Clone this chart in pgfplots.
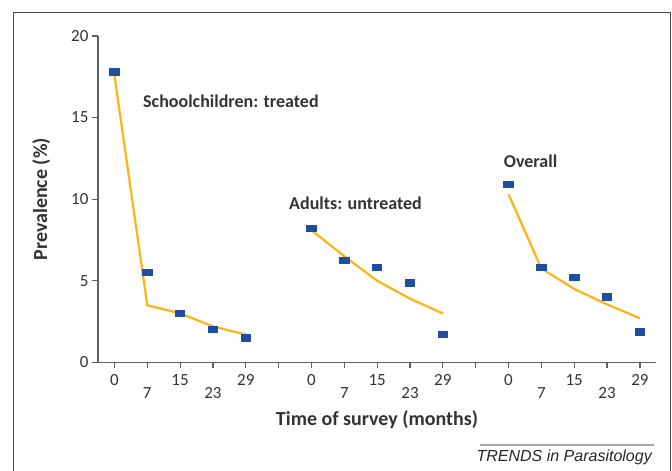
\documentclass[border=0pt]{standalone}
\usepackage{pgfplots}
\pgfplotsset{compat=1.18}
\usepackage{fontspec}
\setmainfont{Carlito}
\newfontfamily\arialfont{Liberation Sans}
\definecolor{markblue}{HTML}{1F4E9F}
\definecolor{linegold}{HTML}{FFB414}
\definecolor{axisgray}{HTML}{606060}
\definecolor{labelgray}{HTML}{333333}
\definecolor{framegray}{HTML}{454545}

\begin{document}
\begin{tikzpicture}
\path[use as bounding box] (0bp,0bp) rectangle (672bp,-471bp);
\draw[framegray, line width=1bp] (13.7bp,-471bp) -- (13.7bp,-12.3bp) -- (670.6bp,-12.3bp) -- (670.6bp,-471bp);
\begin{axis}[
  at={(98bp,-362.3bp)}, anchor=south west,
  scale only axis, width=558bp, height=326.3bp,
  xmin=-0.5, xmax=16.49, ymin=0, ymax=20,
  clip=false,
  axis lines=left,
  x axis line style={-}, y axis line style={-},
  axis line style={axisgray, line width=1.4bp},
  tick align=outside, major tick length=6bp,
  tick style={axisgray, line width=1.2bp},
  xtick={0,...,16},
  xticklabels={0,,15,,29,,0,,15,,29,,0,,15,,29},
  extra x ticks={1,3,7,9,13,15},
  extra x tick labels={7,23,7,23,7,23},
  extra x tick style={tick label style={yshift=-12.3bp}},
  ytick={0,5,10,15,20},
  tick label style={font=\fontsize{17bp}{20bp}\selectfont, text=labelgray},
  xticklabel style={yshift=-3bp},
  /pgf/number format/assume math mode=true,
  xlabel={Time of survey (months)},
  ylabel={Prevalence (\%)},
  xlabel style={at={(axis description cs:0.5,-0.1759)}, anchor=center,
    font=\bfseries\fontsize{20bp}{24bp}\selectfont, text=labelgray},
  ylabel style={at={(axis description cs:-0.1016,0.5)}, anchor=center,
    font=\bfseries\fontsize{20bp}{24bp}\selectfont, text=labelgray},
]
% fitted lines
\addplot[linegold, line width=2.2bp, no marks] coordinates {(0,17.6)(1,3.5)(2,3.0)(3,2.2)(4,1.7)};
\addplot[linegold, line width=2.2bp, no marks] coordinates {(6,8.1)(7,6.5)(8,5.0)(9,3.9)(10,3.0)};
\addplot[linegold, line width=2.2bp, no marks] coordinates {(12,10.3)(13,5.75)(14,4.5)(15,3.55)(16,2.7)};
% observed prevalence
\addplot[only marks, mark=square*, mark size=3.3bp, mark options={xscale=1.45, draw=markblue, fill=markblue, line width=0pt}]
  coordinates {(0,17.8)(1,5.5)(2,3.0)(3,2.0)(4,1.5)};
\addplot[only marks, mark=square*, mark size=3.3bp, mark options={xscale=1.45, draw=markblue, fill=markblue, line width=0pt}]
  coordinates {(6,8.2)(7,6.25)(8,5.8)(9,4.85)(10,1.7)};
\addplot[only marks, mark=square*, mark size=3.3bp, mark options={xscale=1.45, draw=markblue, fill=markblue, line width=0pt}]
  coordinates {(12,10.9)(13,5.8)(14,5.2)(15,4.0)(16,1.85)};
\node[anchor=base west, inner sep=0pt, font=\bfseries\fontsize{18bp}{21bp}\selectfont, text=labelgray]
  at (axis cs:0.871,15.62) {Schoolchildren: treated};
\node[anchor=base west, inner sep=0pt, font=\bfseries\fontsize{18bp}{21bp}\selectfont, text=labelgray]
  at (axis cs:5.315,9.39) {Adults: untreated};
\node[anchor=base west, inner sep=0pt, font=\bfseries\fontsize{18bp}{21bp}\selectfont, text=labelgray]
  at (axis cs:11.852,11.95) {Overall};
\end{axis}
\draw[gray!70, line width=1.2bp] (480bp,-445bp) -- (654bp,-445bp);
\node[anchor=base east, inner sep=0pt, font=\arialfont\itshape\fontsize{16bp}{19bp}\selectfont, text=black!85]
  at (652bp,-461bp) {TRENDS in Parasitology};
\end{tikzpicture}
\end{document}
